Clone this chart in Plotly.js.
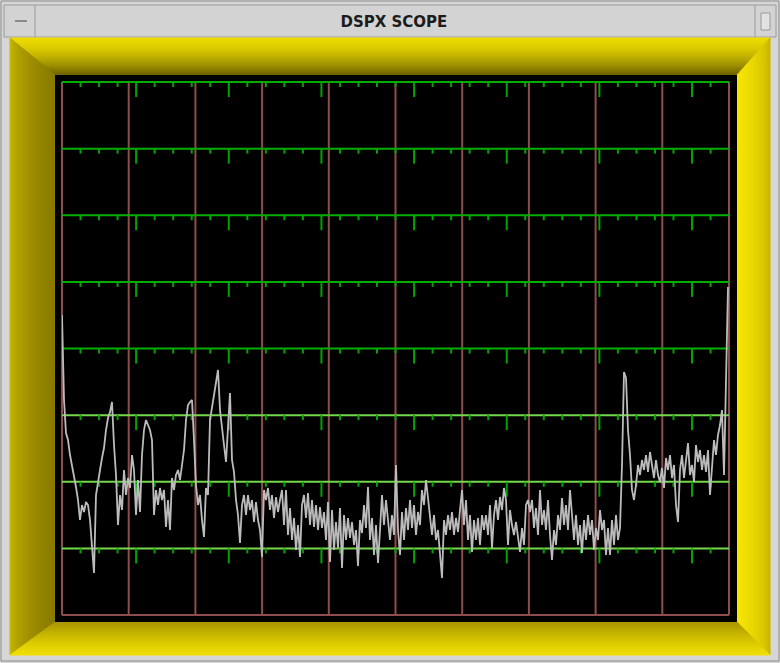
<!DOCTYPE html>
<html><head><meta charset="utf-8">
<script src="https://cdn.plot.ly/plotly-3.0.1.min.js"></script>
<style>html,body{margin:0;padding:0;background:#d6d6d6;overflow:hidden}#chart{width:780px;height:663px}</style>
</head><body><div id="chart"></div>
<script>
// Spectrum amplitude (height above the bottom graticule line, arbitrary units; full screen = 533)
const amplitude = [
300,215,182,175,160,150,137,128,115,95,
110,103,113,110,95,70,42,120,135,145,
157,167,185,197,203,213,170,140,90,120,
105,145,120,137,127,160,145,100,135,103,
160,185,195,190,185,175,100,125,110,127,
115,125,88,115,85,137,125,140,145,135,
153,165,195,210,213,215,175,130,110,120,
95,78,127,120,195,208,220,233,245,205,
185,170,153,195,222,155,143,115,100,72,
110,120,100,120,105,115,93,113,95,85,
58,125,115,127,105,120,97,118,103,115,
125,90,125,80,107,75,97,65,90,58,
110,120,97,122,90,115,88,110,85,108,
87,103,75,113,53,105,65,93,67,107,
47,100,75,97,77,93,70,85,49,95,
82,110,87,128,75,97,60,90,52,85,
120,90,115,95,75,100,80,150,85,60,
103,75,107,85,115,87,110,80,103,90,
125,110,135,117,95,80,100,75,85,60,
37,95,80,100,85,103,80,97,83,105,
125,90,115,75,100,63,95,75,97,70,
100,85,100,80,110,67,100,115,95,118,
105,127,115,70,105,90,80,93,75,63,
87,70,110,115,103,115,87,107,80,125,
90,105,85,115,80,55,85,70,100,85,
117,90,110,85,125,95,75,100,70,90,
62,95,75,100,80,95,65,87,75,105,
85,95,60,87,60,95,70,100,75,87,
150,243,237,185,160,125,115,130,150,140,
155,145,160,143,163,150,137,155,140,133,
147,127,157,145,160,137,150,110,93,145,
160,137,155,172,140,150,133,170,153,165,
145,160,143,165,120,145,175,160,180,190,
205,140,233,328
];
const sampleIndex = amplitude.map((_, i) => i);
const titleText = 'DSPX SCOPE';

// ---------- layout geometry (pixels) ----------
const L = 62, R = 729, T = 82, B = 615;
const X = px => (px - L) / (R - L);
const Y = py => (B - py) / (B - T);

function hex(c){return [parseInt(c.slice(1,3),16),parseInt(c.slice(3,5),16),parseInt(c.slice(5,7),16)];}
function mix(a,b,t){const A=hex(a),Bc=hex(b);return 'rgb('+A.map((v,i)=>Math.round(v+(Bc[i]-v)*t)).join(',')+')';}

const shapes = [];
function poly(pts, fill){
  const d = pts.map((p,i)=>(i?'L':'M')+X(p[0]).toFixed(5)+','+Y(p[1]).toFixed(5)).join(' ')+' Z';
  shapes.push({type:'path', xref:'paper', yref:'paper', path:d, fillcolor:fill,
    line:{width:1, color:fill}, layer:'below'});
}
function rect(x0,y0,x1,y1,fill,lineColor,lw){
  shapes.push({type:'rect', xref:'paper', yref:'paper', x0:X(x0), x1:X(x1), y0:Y(y0), y1:Y(y1),
    fillcolor:fill, line:{width:lw||0, color:lineColor||fill}, layer:'below'});
}
function seg(x0,y0,x1,y1,color,w){
  shapes.push({type:'line', xref:'paper', yref:'paper', x0:X(x0), x1:X(x1), y0:Y(y0), y1:Y(y1),
    line:{color:color, width:w}, layer:'below'});
}

// window chrome
rect(1,1,779,661,'#d6d6d6','#8c8c8c',1);
rect(4,5,776,37,'#d3d3d3','#9c9c9c',1);
seg(35,5,35,37,'#9c9c9c',1);
seg(755,5,755,37,'#9c9c9c',1);
seg(15,21,27,21,'#8a8a8a',2);
rect(761,13,770,30,'#e2e2e2','#9a9a9a',1);

// yellow bevel frame
const oL=10,oR=770,oT=38,oB=655, iL=55,iR=737,iT=75,iB=622, n=30;
const lx=t=>oL+(iL-oL)*t, rx=t=>oR-(oR-iR)*t, ty=t=>oT+(iT-oT)*t, by=t=>oB-(oB-iB)*t;
for(let i=0;i<n;i++){
  const t0=i/n, t1=(i+1)/n, tm=(t0+t1)/2;
  poly([[lx(t0),ty(t0)],[rx(t0),ty(t0)],[rx(t1),ty(t1)],[lx(t1),ty(t1)]], mix('#ecdb00','#6f6300',Math.pow(tm,1.6)));
  poly([[lx(t0),ty(t0)],[lx(t1),ty(t1)],[lx(t1),by(t1)],[lx(t0),by(t0)]], mix('#d2c000','#877900',Math.pow(tm,0.5)));
  poly([[rx(t0),ty(t0)],[rx(t1),ty(t1)],[rx(t1),by(t1)],[rx(t0),by(t0)]], mix('#bfac00','#f6e600',Math.pow(tm,0.5)));
  poly([[lx(t0),by(t0)],[rx(t0),by(t0)],[rx(t1),by(t1)],[lx(t1),by(t1)]], mix('#f0de00','#a99700',Math.pow(tm,1.3)));
}
// black screen
rect(iL,iT,iR,iB,'#000000');

// graticule
const brown = '#8f4c4c';
for(let k=0;k<=10;k++){ const x=L+(R-L)*k/10; seg(x,T,x,B,brown,2); }
for(let k=0;k<8;k++){
  const y=T+(B-T)*k/8;
  seg(L,y,R,y, k<5?'#00b000':'#74d94a', 2);
}
seg(L,B,R,B,brown,2);
// hanging marker ticks
const tickStep = 18.53;
for(let k=0;k<8;k++){
  const y=T+(B-T)*k/8;
  for(let j=1;j<=35;j++){
    const x=L+tickStep*j, long=(j%5===4);
    seg(x,y,x,y+(long?15:5),'#00a400',2);
  }
}

const data = [{
  type:'scatter', mode:'lines', x:sampleIndex, y:amplitude,
  line:{color:'#bcbcbc', width:1.8}, hoverinfo:'skip', showlegend:false
}];

const layout = {
  width:780, height:663,
  margin:{l:L, r:780-R, t:T, b:663-B, pad:0},
  paper_bgcolor:'#d6d6d6', plot_bgcolor:'rgba(0,0,0,0)',
  title:{text:'<b>'+titleText+'</b>', x:0.505, xref:'container', xanchor:'center', y:1-22/663, yref:'container', yanchor:'middle',
    font:{family:'DejaVu Sans, Liberation Sans, sans-serif', size:15, color:'#1c1c1c'}},
  xaxis:{range:[0,333.5], visible:false, fixedrange:true},
  yaxis:{range:[0,533], visible:false, fixedrange:true},
  shapes:shapes, showlegend:false
};
Plotly.newPlot('chart', data, layout, {staticPlot:true, displayModeBar:false});
</script></body></html>
